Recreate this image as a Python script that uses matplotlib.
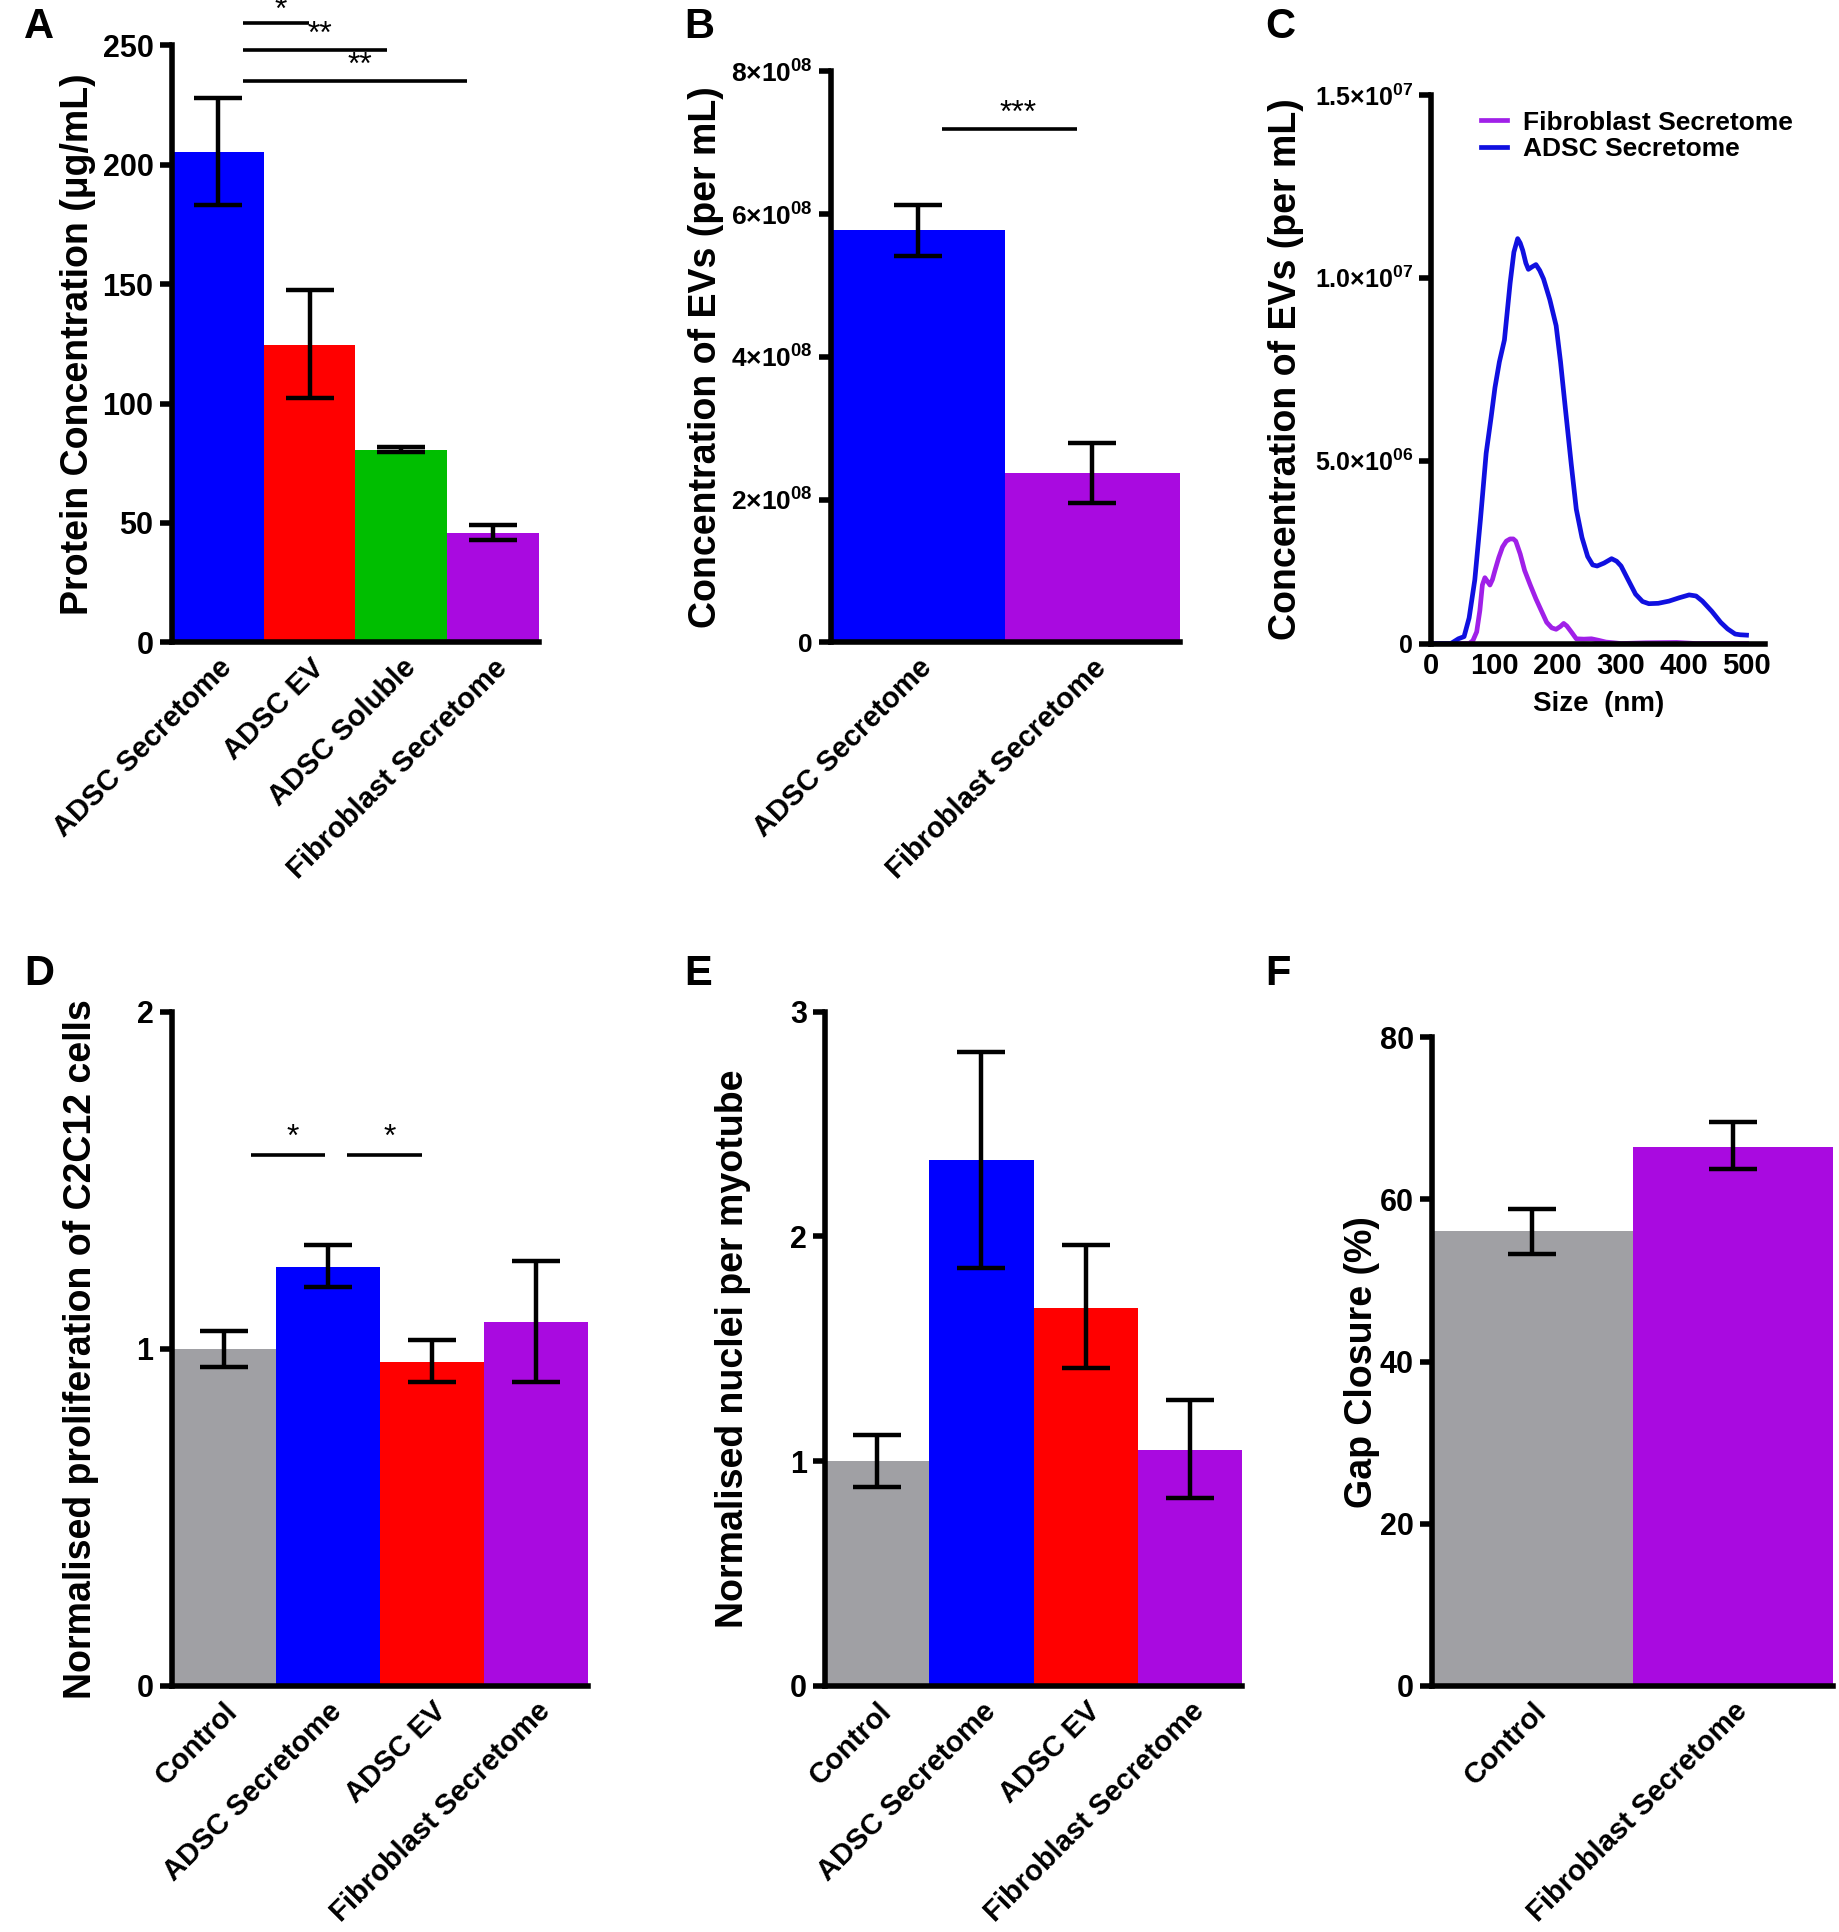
import matplotlib
matplotlib.use("Agg")
import matplotlib.pyplot as plt

plt.rcParams["font.family"] = ["Liberation Sans", "DejaVu Sans"]
plt.rcParams["font.weight"] = "bold"
plt.rcParams["mathtext.fontset"] = "custom"
plt.rcParams["mathtext.rm"] = "Liberation Sans:bold"
plt.rcParams["mathtext.bf"] = "Liberation Sans:bold"
plt.rcParams["mathtext.default"] = "rm"

BLUE = "#0000FF"
RED = "#FF0000"
GREEN = "#00BE00"
PURPLE = "#A90AE0"
GREY = "#A0A0A4"

# Panel A: protein concentration
a_labels = ["ADSC Secretome", "ADSC EV", "ADSC Soluble", "Fibroblast Secretome"]
a_values = [205.5, 124.5, 80.6, 45.8]
a_err_hi = [228.0, 147.5, 81.8, 49.0]
a_err_lo = [183.0, 102.5, 79.6, 43.0]

# Panel B: EV concentration
b_labels = ["ADSC Secretome", "Fibroblast Secretome"]
b_values = [5.78e8, 2.37e8]
b_err_hi = [6.13e8, 2.80e8]
b_err_lo = [5.42e8, 1.96e8]

# Panel C: size distribution (nm, per mL)
adsc_size = [0, 31, 43, 52, 60, 69, 78, 87, 95, 101, 108, 116, 125, 131, 137, 141, 145,
             150, 154, 160, 166, 172, 178, 188, 198, 205, 213, 222, 230, 239, 248, 256,
             263, 274, 286, 294, 301, 312, 324, 335, 345, 360, 377, 393, 409, 420, 430,
             445, 459, 470, 482, 490, 500]
adsc_conc = [0, 0, 0.13e6, 0.19e6, 0.7e6, 1.74e6, 3.4e6, 5.2e6, 6.2e6, 7.0e6, 7.7e6, 8.3e6,
             9.85e6, 10.7e6, 11.07e6, 10.95e6, 10.75e6, 10.4e6, 10.23e6, 10.3e6, 10.36e6,
             10.2e6, 9.97e6, 9.4e6, 8.69e6, 7.7e6, 6.37e6, 4.9e6, 3.67e6, 2.9e6, 2.38e6,
             2.15e6, 2.12e6, 2.2e6, 2.32e6, 2.25e6, 2.12e6, 1.75e6, 1.35e6, 1.15e6, 1.09e6,
             1.1e6, 1.16e6, 1.25e6, 1.33e6, 1.3e6, 1.16e6, 0.88e6, 0.58e6, 0.4e6, 0.26e6,
             0.24e6, 0.23e6]
fib_size = [0, 60, 66, 72, 77, 81, 85, 89, 93, 97, 101, 107, 113, 119, 125, 130, 134, 141,
            148, 157, 166, 175, 183, 191, 198, 205, 210, 215, 222, 230, 242, 254, 265, 277,
            290, 301, 340, 389, 420, 500]
fib_conc = [0, 0, 0.08e6, 0.32e6, 0.9e6, 1.6e6, 1.8e6, 1.7e6, 1.6e6, 1.75e6, 2.0e6, 2.35e6,
            2.64e6, 2.8e6, 2.86e6, 2.86e6, 2.8e6, 2.45e6, 2.0e6, 1.6e6, 1.22e6, 0.88e6,
            0.58e6, 0.43e6, 0.39e6, 0.47e6, 0.55e6, 0.48e6, 0.32e6, 0.13e6, 0.12e6, 0.13e6,
            0.09e6, 0.04e6, 0.02e6, 0.0, 0.02e6, 0.03e6, 0.0, 0.0]

# Panel D: proliferation
d_labels = ["Control", "ADSC Secretome", "ADSC EV", "Fibroblast Secretome"]
d_values = [1.0, 1.243, 0.961, 1.078]
d_err_hi = [1.053, 1.307, 1.025, 1.26]
d_err_lo = [0.947, 1.184, 0.90, 0.90]

# Panel E: nuclei per myotube
e_labels = ["Control", "ADSC Secretome", "ADSC EV", "Fibroblast Secretome"]
e_values = [1.0, 2.34, 1.683, 1.05]
e_err_hi = [1.117, 2.82, 1.96, 1.27]
e_err_lo = [0.886, 1.86, 1.415, 0.836]

# Panel F: gap closure
f_labels = ["Control", "Fibroblast Secretome"]
f_values = [56.1, 66.5]
f_err_hi = [58.8, 69.6]
f_err_lo = [53.3, 63.7]

SPINE_W = 4.0
TICK_FS = 22
XTICK_FS = 21
YLABEL_FS = 27


def style_axes(ax):
    for s in ("top", "right"):
        ax.spines[s].set_visible(False)
    for s in ("left", "bottom"):
        ax.spines[s].set_linewidth(SPINE_W)
    ax.tick_params(axis="y", direction="out", length=9, width=SPINE_W, labelsize=TICK_FS, pad=4)
    ax.tick_params(axis="x", length=0, labelsize=XTICK_FS, pad=8)


def bar_panel(ax, labels, values, hi, lo, colors, ylim, yticks, ylabel, pad,
              yticklabels=None):
    x = list(range(len(values)))
    ax.bar(x, values, width=1.0, color=colors, edgecolor="none", zorder=2)
    yerr = [[v - l for v, l in zip(values, lo)], [h - v for v, h in zip(values, hi)]]
    ax.errorbar(x, values, yerr=yerr, fmt="none", ecolor="black", elinewidth=3.2,
                capsize=17, capthick=3.2, zorder=3)
    ax.set_xlim(-0.5, len(values) - 0.5)
    ax.set_ylim(*ylim)
    ax.set_yticks(yticks)
    if yticklabels is not None:
        ax.set_yticklabels(yticklabels)
    ax.set_xticks(x)
    ax.set_xticklabels(labels, rotation=45, ha="right", rotation_mode="anchor")
    ax.set_ylabel(ylabel, fontsize=YLABEL_FS, fontweight="bold", labelpad=pad)
    style_axes(ax)


def sig(ax, x0, x1, y, text, ty, fs=23):
    ax.plot([x0, x1], [y, y], color="black", lw=2.6, clip_on=False, solid_capstyle="butt")
    ax.text((x0 + x1) / 2 + 0.05, ty, text, ha="center", va="bottom", fontsize=fs,
            fontweight="normal", clip_on=False)


fig = plt.figure(figsize=(18.39, 19.32), dpi=100)

axA = fig.add_axes([0.0933, 0.6675, 0.2, 0.309])
bar_panel(axA, a_labels, a_values, a_err_hi, a_err_lo, [BLUE, RED, GREEN, PURPLE],
          (0, 250), [0, 50, 100, 150, 200, 250], "Protein Concentration (μg/mL)", 5)
sig(axA, 0.28, 0.99, 259.5, "*", 258.0)
sig(axA, 0.28, 1.84, 248.2, "**", 248.0)
sig(axA, 0.28, 2.71, 235.2, "**", 235.0)

axB = fig.add_axes([0.4517, 0.6675, 0.1897, 0.2955])
b_ticks = [0, 2e8, 4e8, 6e8, 8e8]
b_tick_labels = ["0"] + [r"%d$\times$10$^{08}$" % v for v in (2, 4, 6, 8)]
bar_panel(axB, b_labels, b_values, b_err_hi, b_err_lo, [BLUE, PURPLE],
          (0, 8e8), b_ticks, "Concentration of EVs (per mL)", 5, b_tick_labels)
axB.tick_params(axis="y", labelsize=19)
sig(axB, 0.14, 0.91, 7.19e8, "***", 7.19e8)

axC = fig.add_axes([0.7783, 0.6669, 0.1817, 0.284])
axC.plot(fib_size, fib_conc, color="#A020E8", lw=3.4, label="Fibroblast Secretome",
         solid_joinstyle="round")
axC.plot(adsc_size, adsc_conc, color="#1010E0", lw=3.4, label="ADSC Secretome",
         solid_joinstyle="round")
axC.set_xlim(0, 530)
axC.set_ylim(0, 1.5e7)
axC.set_xticks([0, 100, 200, 300, 400, 500])
axC.set_yticks([0, 5e6, 1e7, 1.5e7])
axC.set_yticklabels(["0", r"5.0$\times$10$^{06}$", r"1.0$\times$10$^{07}$",
                     r"1.5$\times$10$^{07}$"])
style_axes(axC)
axC.tick_params(axis="y", labelsize=18)
axC.tick_params(axis="x", labelsize=21, pad=6)
axC.set_xlabel("Size  (nm)", fontsize=20, fontweight="bold", labelpad=8)
axC.set_ylabel("Concentration of EVs (per mL)", fontsize=YLABEL_FS, fontweight="bold",
               labelpad=8)
axC.legend(loc="upper left", bbox_to_anchor=(0.1, 1.0), frameon=False, fontsize=19,
           handlelength=1.0, handletextpad=0.6, labelspacing=0.1, borderaxespad=0.2)

axD = fig.add_axes([0.0933, 0.1274, 0.2267, 0.349])
bar_panel(axD, d_labels, d_values, d_err_hi, d_err_lo, [GREY, BLUE, RED, PURPLE],
          (0, 2), [0, 1, 2], "Normalised proliferation of C2C12 cells", 27)
sig(axD, 0.26, 0.97, 1.574, "*", 1.582)
sig(axD, 1.18, 1.90, 1.574, "*", 1.582)

axE = fig.add_axes([0.4487, 0.1274, 0.2267, 0.349])
bar_panel(axE, e_labels, e_values, e_err_hi, e_err_lo, [GREY, BLUE, RED, PURPLE],
          (0, 3), [0, 1, 2, 3], "Normalised nuclei per myotube", 28)

axF = fig.add_axes([0.7786, 0.1274, 0.2184, 0.3357])
bar_panel(axF, f_labels, f_values, f_err_hi, f_err_lo, [GREY, PURPLE],
          (0, 80), [0, 20, 40, 60, 80], "Gap Closure (%)", 0)

for letter, (fx, fy) in {"A": (0.013, 0.986), "B": (0.372, 0.986), "C": (0.688, 0.986),
                         "D": (0.013, 0.496), "E": (0.372, 0.496), "F": (0.688, 0.496)}.items():
    fig.text(fx, fy, letter, fontsize=30, fontweight="bold", ha="left", va="center")

fig.savefig("out.png", dpi=100)
